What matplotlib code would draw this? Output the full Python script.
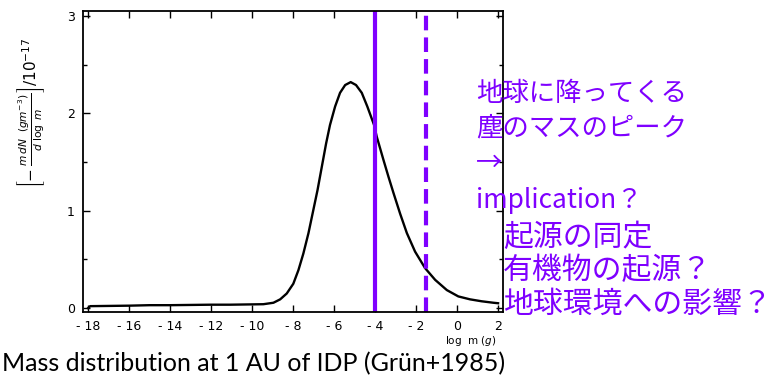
import matplotlib
matplotlib.use("Agg")
import matplotlib.pyplot as plt
from matplotlib.ticker import MultipleLocator

# mass distribution of interplanetary dust at 1 AU
log_m = [-18.0, -17.9, -16.0, -15.0, -14.0, -12.0, -11.07, -9.45, -8.96, -8.63,
         -8.31, -7.99, -7.74, -7.5, -7.25, -7.01, -6.81, -6.6, -6.39, -6.2,
         -5.95, -5.71, -5.46, -5.19, -4.93, -4.65, -4.38, -4.05, -3.92, -3.59,
         -3.35, -3.1, -2.78, -2.45, -2.05, -1.56, -1.07, -0.5, 0.06, 0.63,
         1.2, 1.77, 2.0]
flux = [0.0, 0.02, 0.025, 0.03, 0.03, 0.035, 0.035, 0.04, 0.055, 0.09,
        0.15, 0.25, 0.39, 0.56, 0.77, 1.01, 1.21, 1.45, 1.69, 1.88,
        2.07, 2.21, 2.29, 2.32, 2.29, 2.21, 2.07, 1.88, 1.76, 1.52,
        1.35, 1.18, 0.97, 0.77, 0.58, 0.41, 0.29, 0.185, 0.12, 0.09,
        0.07, 0.055, 0.05]
peak_line = -4.0
dashed_line = -1.5
x_ticks = [-18, -16, -14, -12, -10, -8, -6, -4, -2, 0, 2]
y_ticks = [0, 1, 2, 3]
notes = ["地球に降ってくる", "塵のマスのピーク", "→", "implication？",
         "起源の同定", "有機物の起源？", "地球環境への影響？"]
note_pos = [(476, 93), (476, 128), (476, 163), (476, 200),
            (503, 237), (503, 270), (503, 304)]
note_size = [19, 19, 19, 19, 21.5, 21.5, 21.5]

W, H = 776, 376
purple = "#7f00ff"

fig = plt.figure(figsize=(W / 100, H / 100), dpi=100)
ax = fig.add_axes([83 / W, 1 - 312 / H, 420 / W, 301 / H])

ax.plot(log_m, flux, color="black", lw=1.7, solid_joinstyle="round")
ax.axvline(peak_line, color=purple, lw=3)
ax.axvline(dashed_line, color=purple, lw=3, ls=(0, (3.5, 1.7)))

ax.set_xlim(-18.25, 2.24)
ax.set_ylim(-0.04, 3.05)
ax.set_xticks(x_ticks)
ax.set_xticklabels([str(t).replace("-", "- ") if t < 0 else str(t) for t in x_ticks])
ax.set_yticks(y_ticks)
ax.yaxis.set_minor_locator(MultipleLocator(0.5))
ax.tick_params(direction="in", top=True, right=True, labelsize=9, length=5,
               width=1, pad=6)
ax.tick_params(which="minor", direction="in", right=True, length=3, width=1)
for s in ax.spines.values():
    s.set_linewidth(1.3)

fig.text(497 / W, 1 - 341 / H, r"log  m $\mathit{(g)}$", fontsize=7.5,
         ha="right", va="center")
fig.text(31 / W, 1 - 113 / H,
         r"$\left[-\,\frac{m\,dN\ \ \mathit{(gm^{-3})}}{d\ \log\ m}\right]/10^{-17}$",
         rotation=90, fontsize=11, ha="center", va="center")

for txt, (px, py), fs in zip(notes, note_pos, note_size):
    fig.text(px / W, 1 - py / H, txt, color=purple, fontsize=fs,
             family=["Noto Sans CJK JP", "DejaVu Sans"], ha="left", va="center")

fig.text(2 / W, 1 - 371 / H, "Mass distribution at 1 AU of IDP (Grün+1985)",
         fontsize=18, family="Lato", ha="left", va="baseline")

fig.savefig("out.png", dpi=100)
